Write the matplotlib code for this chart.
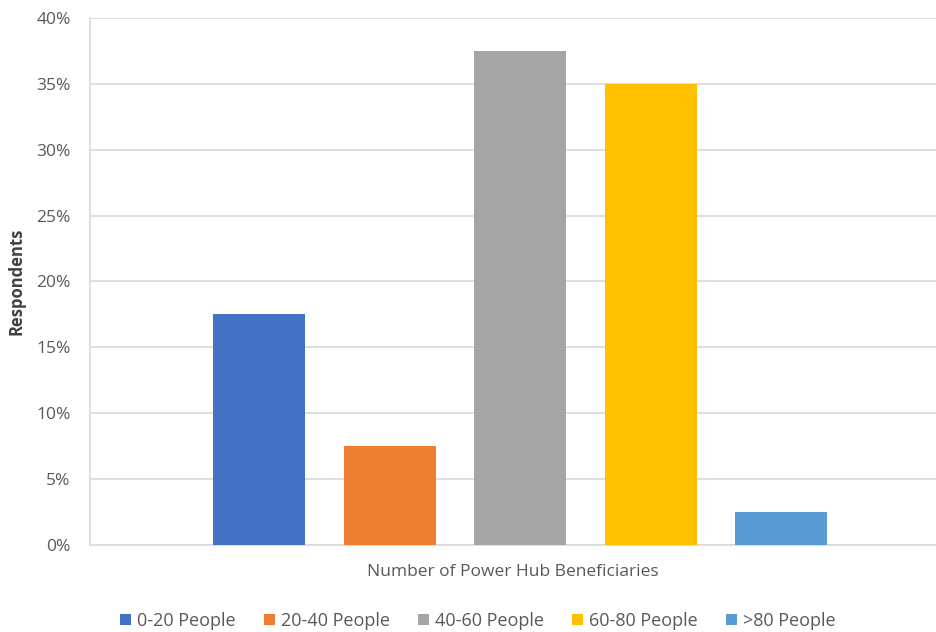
import numpy as np
import matplotlib.pyplot as plt

plt.rcParams['font.family'] = ['Open Sans', 'DejaVu Sans']

# share of respondents by number of power hub beneficiaries
groups = ['0-20 People', '20-40 People', '40-60 People', '60-80 People', '>80 People']
share = [0.175, 0.075, 0.375, 0.35, 0.025]
colors = ['#4472C4', '#ED7D31', '#A5A5A5', '#FFC000', '#5B9BD5']
yticks = [0, 0.05, 0.10, 0.15, 0.20, 0.25, 0.30, 0.35, 0.40]

fig = plt.figure(figsize=(9.37, 6.32), dpi=100)
ax = fig.add_axes([0.096, 0.1377, 0.903, 0.834])

x = np.arange(len(groups))
for i in range(len(groups)):
    ax.bar(x[i], share[i], width=0.705, color=colors[i], label=groups[i], zorder=3)

ax.set_xlim(-1.3, 5.19)
ax.set_ylim(0, 0.40)
ax.set_yticks(yticks)
ax.set_yticklabels(['%d%%' % round(v * 100) for v in yticks], color='#595959', fontsize=12.5)
ax.set_xticks([])
ax.yaxis.grid(True, color='#D9D9D9', linewidth=1.2, zorder=0)
ax.tick_params(axis='y', length=0, pad=14)

for s in ['top', 'right']:
    ax.spines[s].set_visible(False)
ax.spines['left'].set_color('#D9D9D9')
ax.spines['left'].set_linewidth(1.2)
ax.spines['bottom'].set_color('#D9D9D9')
ax.spines['bottom'].set_linewidth(1.2)

ax.set_ylabel('Respondents', fontsize=12, fontweight='bold', color='#404040', labelpad=8)
ax.set_xlabel('Number of Power Hub Beneficiaries', fontsize=12.5, color='#595959', labelpad=14)

fig.legend(loc='lower center', bbox_to_anchor=(0.51, -0.022), ncol=5, frameon=False,
           fontsize=13, labelcolor='#595959', handlelength=0.6, handleheight=0.6,
           handletextpad=0.35, columnspacing=1.55)

fig.savefig('out.png', dpi=100)
